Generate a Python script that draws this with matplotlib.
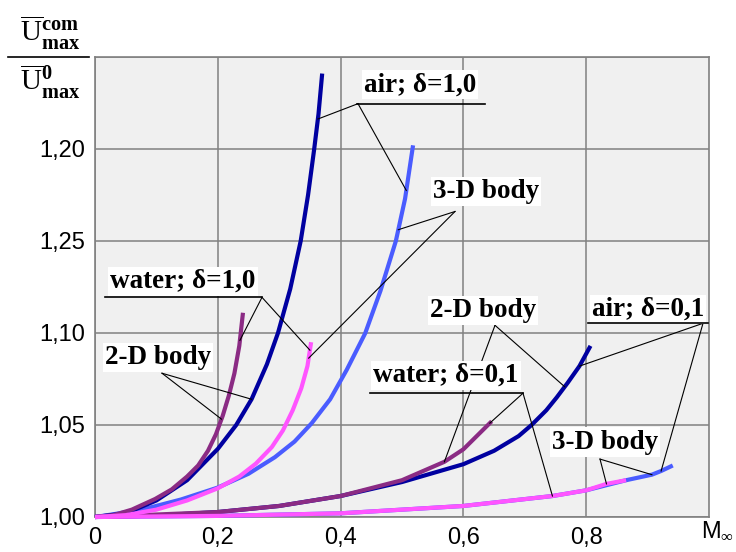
import numpy as np
import matplotlib.pyplot as plt
from matplotlib.lines import Line2D

# ---- curve data: Mach number vs. velocity ratio ----
air10_2d_m = [0.0, 0.05, 0.1, 0.15, 0.2, 0.23, 0.255, 0.28, 0.298, 0.318, 0.335,
              0.347, 0.357, 0.364, 0.370]
air10_2d_u = [1.0, 1.002, 1.009, 1.020, 1.037, 1.050, 1.064, 1.083, 1.10, 1.124, 1.15,
              1.175, 1.20, 1.219, 1.241]

air10_3d_m = [0.0, 0.03, 0.08, 0.14, 0.2, 0.25, 0.293, 0.325, 0.353, 0.383, 0.41,
              0.44, 0.465, 0.49, 0.505, 0.518]
air10_3d_u = [1.0, 1.0015, 1.0043, 1.0095, 1.016, 1.0235, 1.0325, 1.041, 1.051, 1.064, 1.080,
              1.0998, 1.123, 1.150, 1.173, 1.202]

wat10_2d_m = [0.0, 0.03, 0.06, 0.098, 0.125, 0.15, 0.168, 0.184, 0.197, 0.208, 0.218,
              0.227, 0.235, 0.241]
wat10_2d_u = [1.0, 1.001, 1.004, 1.0098, 1.015, 1.022, 1.028, 1.036, 1.045, 1.055, 1.066,
              1.078, 1.093, 1.111]

wat10_3d_m = [0.0, 0.05, 0.1, 0.15, 0.2, 0.235, 0.262, 0.288, 0.306, 0.322, 0.336,
              0.346, 0.352]
wat10_3d_u = [1.0, 1.001, 1.004, 1.009, 1.0156, 1.022, 1.029, 1.038, 1.047, 1.058, 1.070,
              1.082, 1.095]

air01_2d_m = [0.0, 0.1, 0.2, 0.3, 0.4, 0.5, 0.6, 0.65, 0.69, 0.711, 0.735, 0.752, 0.77,
              0.789, 0.807]
air01_2d_u = [1.0, 1.0008, 1.0027, 1.006, 1.0114, 1.019, 1.0287, 1.036, 1.044, 1.050, 1.058,
              1.065, 1.073, 1.082, 1.093]

wat01_2d_m = [0.0, 0.2, 0.3, 0.4, 0.5, 0.569, 0.6, 0.646]
wat01_2d_u = [1.0, 1.0027, 1.006, 1.0114, 1.020, 1.030, 1.0368, 1.052]

wat01_3d_m = [0.0, 0.2, 0.4, 0.6, 0.745, 0.8, 0.833, 0.865]
wat01_3d_u = [1.0, 1.0006, 1.002, 1.006, 1.0114, 1.0145, 1.018, 1.020]

air01_3d_m = [0.0, 0.2, 0.4, 0.6, 0.745, 0.8, 0.865, 0.907, 0.922, 0.941]
air01_3d_u = [1.0, 1.0006, 1.002, 1.006, 1.0114, 1.0145, 1.020, 1.023, 1.025, 1.028]

y_ticks = [1.00, 1.05, 1.10, 1.15, 1.20]
y_ticklabels = ['1,00', '1,05', '1,10', '1,25', '1,20']
x_ticks = [0.0, 0.2, 0.4, 0.6, 0.8]
x_ticklabels = ['0', '0,2', '0,4', '0,6', '0,8']

DARK = '#0000a0'
BLUE = '#4a5cff'
PURPLE = '#8b2b84'
PINK = '#ff55ff'

plt.rcParams['mathtext.fontset'] = 'custom'
plt.rcParams['mathtext.rm'] = 'Liberation Serif'
plt.rcParams['mathtext.bf'] = 'Liberation Serif:bold'

fig = plt.figure(figsize=(7.36, 5.52), dpi=100)
ax = fig.add_axes([95 / 736, 1 - 517 / 552, 614 / 736, 460 / 552])
ax.set_facecolor('#f0f0f0')
ax.set_xlim(0, 1.0)
ax.set_ylim(1.0, 1.2492)

ax.set_xticks(x_ticks)
ax.set_xticklabels(x_ticklabels)
ax.set_yticks(y_ticks + [1.25])
ax.set_yticklabels(y_ticklabels + [''])
ax.tick_params(length=0, labelsize=17, pad=7)
for lab in ax.get_xticklabels() + ax.get_yticklabels():
    lab.set_family('Liberation Sans')
ax.grid(True, color='#808080', lw=1.1)
for s in ax.spines.values():
    s.set_color('#808080')
    s.set_linewidth(1.2)

curves = [
    (air10_3d_m, air10_3d_u, BLUE),
    (air01_3d_m, air01_3d_u, BLUE),
    (air10_2d_m, air10_2d_u, DARK),
    (air01_2d_m, air01_2d_u, DARK),
    (wat10_2d_m, wat10_2d_u, PURPLE),
    (wat01_2d_m, wat01_2d_u, PURPLE),
    (wat10_3d_m, wat10_3d_u, PINK),
    (wat01_3d_m, wat01_3d_u, PINK),
]
for m, u, c in curves:
    ax.plot(m, u, color=c, lw=3, solid_capstyle='butt', solid_joinstyle='round',
            clip_on=False, zorder=3)


def px(x, y):
    # pixel position in the axes -> data coordinates
    return (x - 95) / 614, 1 + (517 - y) / 1843


def label(text, center, start, targets, underline=None):
    cx, cy = px(*center)
    ax.text(cx, cy, text, ha='center', va='center', fontsize=19.5,
            family='Liberation Serif', fontweight='bold', zorder=6,
            bbox=dict(fc='white', ec='none', pad=1.5))
    sx, sy = px(*start)
    for m, u, mt in targets:
        ax.plot([sx, mt], [sy, np.interp(mt, m, u)], color='black', lw=0.8, zorder=4)
    if underline is not None:
        x0, x1, yl = underline
        (ax0, ay), (ax1, _) = px(x0, yl), px(x1, yl)
        ax.plot([ax0, ax1], [ay, ay], color='black', lw=1.2, zorder=6)


label('air; δ=1,0', (420, 84), (358, 103),
      [(air10_2d_m, air10_2d_u, 0.363), (air10_3d_m, air10_3d_u, 0.507)],
      underline=(357, 485, 103))
label('3-D body', (486, 191), (455, 211),
      [(air10_3d_m, air10_3d_u, 0.494), (wat10_3d_m, wat10_3d_u, 0.348)])
label('water; δ=1,0', (183, 281), (262, 297),
      [(wat10_2d_m, wat10_2d_u, 0.236), (wat10_3d_m, wat10_3d_u, 0.35)],
      underline=(105, 262, 297))
label('2-D body', (158, 357), (162, 373),
      [(air10_2d_m, air10_2d_u, 0.255), (wat10_2d_m, wat10_2d_u, 0.206)])
label('2-D body', (483, 310), (495, 325),
      [(wat01_2d_m, wat01_2d_u, 0.569), (air01_2d_m, air01_2d_u, 0.765)])
label('water; δ=0,1', (446, 375), (523, 393),
      [(wat01_2d_m, wat01_2d_u, 0.643), (wat01_3d_m, wat01_3d_u, 0.745)],
      underline=(370, 523, 393))
label('air; δ=0,1', (648, 309), (703, 323),
      [(air01_2d_m, air01_2d_u, 0.789), (air01_3d_m, air01_3d_u, 0.922)],
      underline=(588, 708, 323))
label('3-D body', (605, 442), (600, 459),
      [(wat01_3d_m, wat01_3d_u, 0.833), (air01_3d_m, air01_3d_u, 0.907)])

# abscissa name
fig.text(718 / 736, 1 - 531 / 552, r'M$_{\infty}$', ha='center', va='center',
         fontsize=17, family='Liberation Sans')

# ordinate name as a fraction
fig.text(50 / 736, 1 - 33 / 552, r'$\overline{\mathrm{U}}_{\mathbf{max}}^{\mathbf{com}}$',
         ha='center', va='center', fontsize=21)
fig.text(50 / 736, 1 - 82 / 552, r'$\overline{\mathrm{U}}_{\mathbf{max}}^{\mathbf{0}}$',
         ha='center', va='center', fontsize=21)
fig.add_artist(Line2D([8 / 736, 89 / 736], [1 - 57 / 552, 1 - 57 / 552],
                      color='black', lw=1.2))

fig.savefig('out.png', dpi=100)
